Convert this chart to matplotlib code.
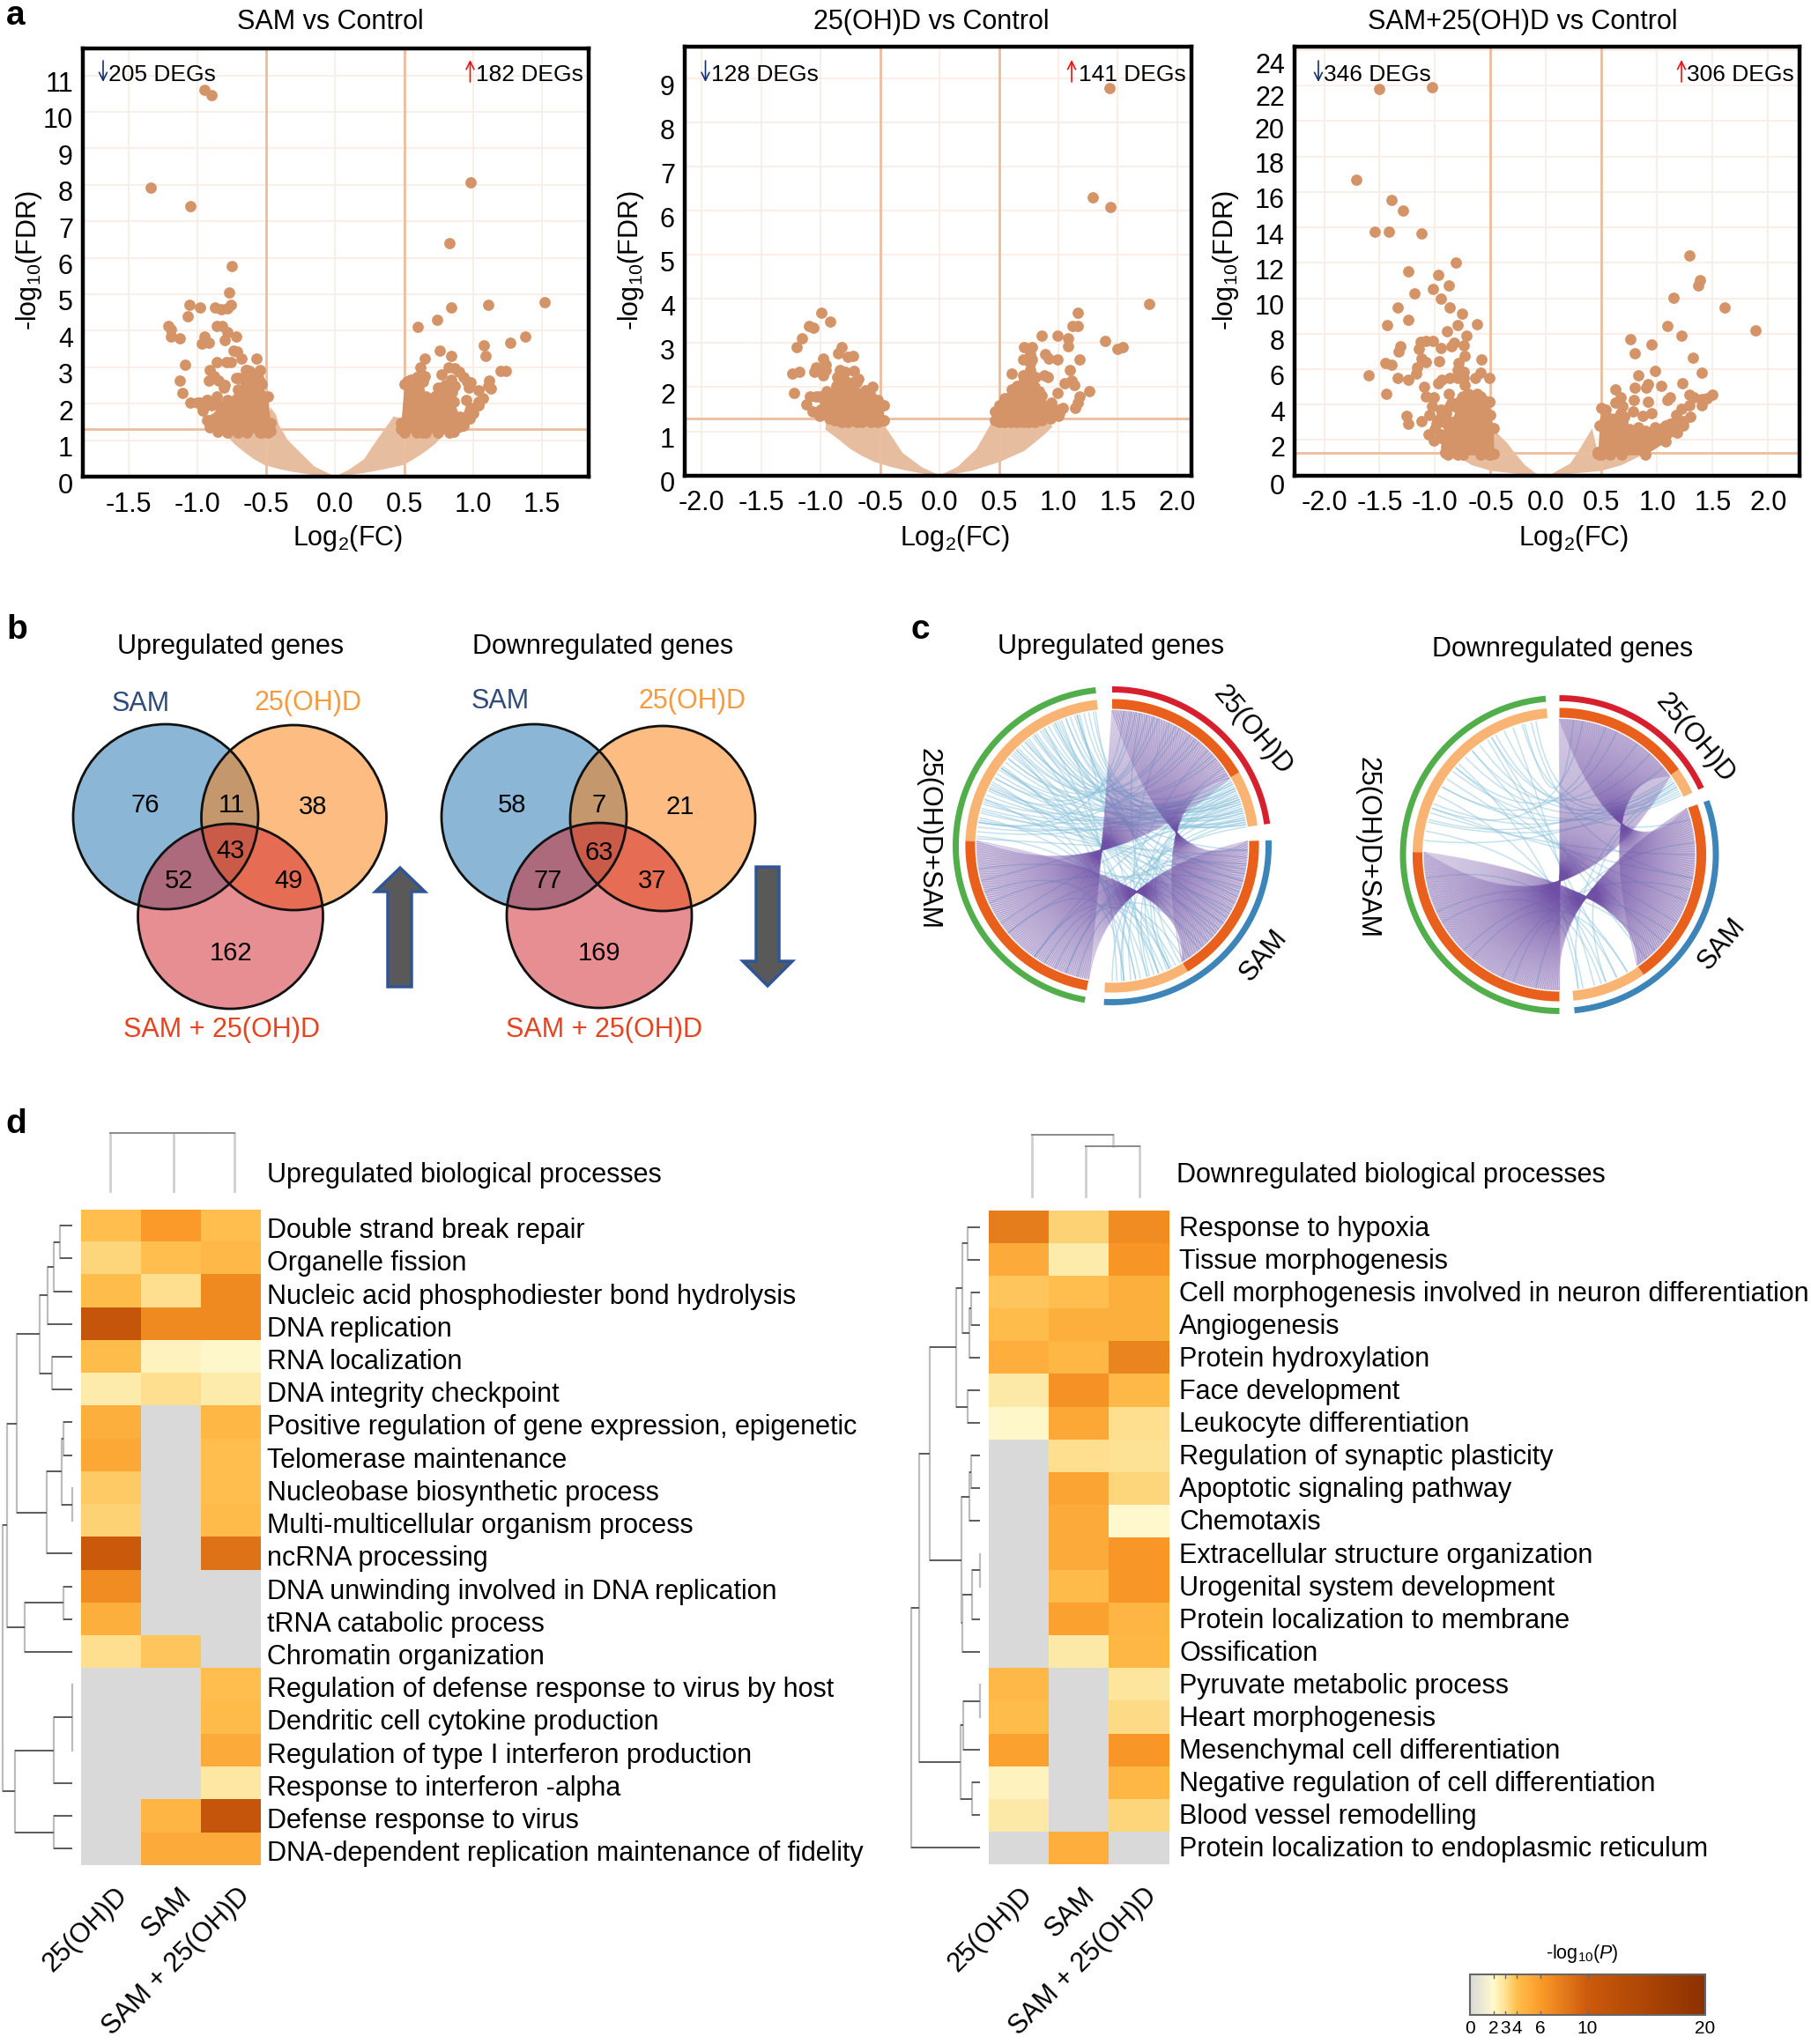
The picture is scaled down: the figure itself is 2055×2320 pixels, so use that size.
import matplotlib
matplotlib.use('Agg')
import matplotlib.pyplot as plt
import numpy as np
from matplotlib.colors import LinearSegmentedColormap, Normalize
from matplotlib.cm import ScalarMappable
from matplotlib.path import Path
from matplotlib.patches import Circle, PathPatch, Polygon
from matplotlib.transforms import ScaledTranslation

plt.rcParams['font.family'] = ['Liberation Sans', 'DejaVu Sans']
plt.rcParams['mathtext.fontset'] = 'custom'
plt.rcParams['mathtext.rm'] = 'Liberation Sans'
plt.rcParams['mathtext.it'] = 'Liberation Sans:italic'
plt.rcParams['mathtext.default'] = 'regular'

W, H = 2055, 2320

# ---- panel a, volcano data
v1_down_x = [-0.95,-0.90,-1.34,-1.05,-0.75,-0.77,-1.06,-0.98,-0.87,-0.83,-0.76,-0.78,-1.07,-1.21,-1.19,-1.19,-1.13,-0.86,-0.82,-0.78,-0.72,-0.80,-0.95,-0.97,-0.92,-0.74,-0.71,-0.68,-0.57,-0.86,-0.79,-0.76,-1.09,-0.91,-0.65,-0.62,-0.56,-0.88,-0.92,-0.85,-1.13,-0.70,-0.66,-0.55,-0.81,-1.11,-1.05,-0.98,-0.93,-0.96,-0.90,-0.88,-0.93,-1.0,-0.96,-0.91,-0.87,-0.93,-0.86,-0.8,-0.72,-0.7,-0.85,-0.6,-0.58]
v1_down_y = [10.6,10.46,7.92,7.41,5.77,5.04,4.72,4.64,4.64,4.58,4.70,4.62,4.40,4.12,4.03,3.85,3.78,4.12,4.12,3.96,3.84,3.75,3.84,3.64,3.66,3.46,3.44,3.24,3.24,3.13,3.14,3.14,3.07,2.92,2.92,2.90,2.85,2.75,2.63,2.63,2.64,2.70,2.68,2.66,2.43,2.30,2.04,2.04,2.09,1.85,1.95,1.60,1.55,2.04,1.8,1.55,1.4,2.1,2.2,2.5,2.7,2.2,1.7,2.6,2.3]
v1_up_x = [0.98,0.83,1.52,1.11,0.84,0.74,0.60,1.38,1.27,1.08,1.09,0.76,0.84,0.65,0.62,0.82,0.87,0.90,0.93,0.96,0.98,0.97,1.20,1.24,0.65,0.77,0.84,0.87,0.85,1.12,1.11,1.13,1.04,1.07,1.04,0.98,0.97,0.94,0.89,0.55,0.60,0.52,0.55,0.6,0.7,0.75,0.9,0.95,1.0,0.8,0.93]
v1_up_y = [8.07,6.41,4.78,4.71,4.64,4.31,4.11,3.84,3.66,3.61,3.32,3.46,3.32,3.24,2.99,3.00,2.97,2.87,2.73,2.61,2.58,2.43,2.89,2.91,2.75,2.80,2.65,2.48,2.33,2.63,2.48,2.41,2.36,2.14,1.99,1.89,1.74,1.55,1.40,2.65,2.65,2.60,2.4,2.5,2.1,2.2,1.6,2.1,1.75,2.5,1.4]
v1_blob_l = ([-0.91,-0.855,-0.78,-0.706,-0.642,-0.546,-0.535,-0.49,-0.47], [1.44,1.97,2.1,2.4,2.93,2.93,2.53,2.2,1.48], [1.35,1.24,1.2,1.2,1.2,1.2,1.2,1.2,1.25])
v1_blob_r = ([0.477,0.5,0.594,0.637,0.657,0.744,0.83,0.86,0.904,0.976,1.04], [1.48,2.53,2.73,2.6,2.2,2.45,2.29,2.05,1.65,1.8,2.05], [1.3,1.2,1.2,1.2,1.2,1.2,1.2,1.24,1.38,1.6,1.95])
v1_cloud_x = [-0.813,-0.74,-0.663,-0.59,-0.514,-0.42,-0.322,-0.17,0,0.21,0.35,0.497,0.57,0.637,0.72,0.817,0.7,0.5,0.48,0.424,0.317,0.273,0.21,0.104,0,-0.152,-0.237,-0.344,-0.408,-0.43,-0.47,-0.5]
v1_cloud_y = [1.25,0.92,0.68,0.48,0.32,0.22,0.14,0.05,0,0.1,0.2,0.32,0.48,0.64,0.88,1.25,1.3,1.3,1.6,1.65,1.08,0.84,0.48,0.2,0,0.28,0.6,1.0,1.41,1.7,1.9,1.3]

v2_down_x = [-0.99,-0.92,-1.10,-1.06,-1.16,-1.20,-0.82,-0.85,-0.77,-0.73,-0.98,-0.96,-1.04,-1.05,-0.98,-0.96,-1.24,-1.18,-0.84,-0.79,-0.72,-0.86,-0.81,-0.68,-0.71,-0.87,-0.79,-0.56,-1.22,-1.09,-1.04,-1.12,-1.07,-0.62,-0.9,-1.0,-0.95]
v2_down_y = [3.68,3.48,3.38,3.35,3.11,2.91,2.91,2.76,2.69,2.71,2.65,2.51,2.45,2.35,2.27,2.39,2.30,2.35,2.39,2.35,2.36,2.22,2.18,2.18,2.13,2.02,1.98,2.00,1.87,1.79,1.79,1.61,1.45,1.92,1.6,1.5,1.9]
v2_up_x = [1.43,1.29,1.44,1.76,1.16,1.12,1.16,0.86,0.99,1.08,1.39,1.54,1.50,1.08,0.71,0.78,0.89,0.92,0.99,1.18,0.70,0.76,0.78,0.76,1.10,0.76,0.61,0.70,0.81,0.88,0.91,1.11,1.05,1.13,0.71,0.65,0.61,0.75,1.26,0.99,0.84,1.18,1.16,1.14,0.94,1.04,1.01,0.98,0.9,0.72]
v2_up_y = [8.78,6.30,6.08,3.88,3.68,3.38,3.38,3.16,3.16,3.11,3.05,2.91,2.87,2.92,2.91,2.91,2.74,2.65,2.62,2.62,2.63,2.75,2.63,2.55,2.39,2.39,2.30,2.27,2.22,2.27,2.22,2.14,2.08,2.05,2.14,2.02,1.94,1.94,1.90,1.87,1.90,1.78,1.65,1.53,1.65,1.53,1.41,1.37,1.5,2.0]
v2_blob_l = ([-1.01,-0.93,-0.88,-0.82,-0.77,-0.7,-0.65,-0.58,-0.52,-0.47], [1.78,1.75,1.82,1.95,2.1,2.1,1.87,1.8,1.7,1.6], [1.35,1.3,1.25,1.22,1.22,1.22,1.22,1.22,1.22,1.25])
v2_blob_r = ([0.47,0.5,0.55,0.6,0.65,0.7,0.75,0.8,0.86,0.93,1.0], [1.45,1.6,1.74,1.78,1.85,2.1,2.3,2.0,1.8,1.6,1.5], [1.25,1.22,1.22,1.22,1.22,1.22,1.22,1.22,1.25,1.3,1.35])
v2_cloud_x = [-0.96,-0.85,-0.75,-0.65,-0.55,-0.42,-0.28,-0.12,0,0.12,0.28,0.51,0.6,0.71,0.8,0.88,0.95,0.9,0.5,0.45,0.31,0.15,0,-0.15,-0.31,-0.38,-0.45,-0.43,-0.5,-0.95]
v2_cloud_y = [1.04,0.82,0.6,0.44,0.31,0.2,0.11,0.03,0,0.03,0.11,0.31,0.42,0.55,0.74,0.92,1.1,1.3,1.3,1.25,0.6,0.19,0,0.19,0.51,0.8,1.08,1.3,1.3,1.3]

v3_down_x = [-1.5,-1.03,-1.71,-1.39,-1.29,-1.54,-1.42,-1.12,-0.81,-1.24,-0.97,-0.88,-1.02,-1.19,-0.95,-0.87,-1.34,-0.76,-1.24,-1.43,-0.80,-0.62,-0.89,-0.72,-1.13,-1.08,-1.02,-0.83,-0.85,-0.74,-1.31,-1.33,-1.15,-0.95,-0.73,-1.12,-1.08,-0.58,-0.96,-0.79,-1.45,-1.39,-1.16,-1.17,-0.80,-0.74,-0.59,-1.6,-1.34,-1.24,-0.87,-0.94,-0.80,-0.74,-0.64,-0.51,-0.97,-0.73,-1.10,-0.88,-1.44,-1.08,-1.01,-0.76,-0.66,-0.51,-1.03,-0.87,-1.05,-0.94,-1.26,-1.12,-1.24,-0.99,-1.06,-1.01,-0.95,-0.9,-0.98,-0.92,-0.85,-1.0,-0.95,-0.92,-0.88,-0.85,-0.8,-0.7,-0.62,-0.55,-0.9,-0.95]
v3_down_y = [21.8,21.9,16.7,15.57,14.96,13.74,13.76,13.66,12.04,11.5,11.3,10.74,10.51,10.27,10.0,9.48,9.46,9.13,8.77,8.5,8.48,8.52,8.14,7.88,7.53,7.57,7.57,7.47,7.27,7.33,7.31,7.0,7.12,7.2,6.76,6.6,6.39,6.56,6.45,6.35,6.35,6.25,6.11,5.74,5.95,5.85,5.8,5.64,5.48,5.38,5.48,5.38,5.48,5.5,5.5,5.48,5.18,5.09,4.99,4.59,4.63,4.47,4.42,4.42,4.47,4.16,3.92,3.92,3.41,3.41,3.37,3.04,2.9,2.9,2.33,1.99,3.7,3.5,3.1,3.0,4.1,2.6,2.3,2.0,2.4,3.0,4.1,4.6,4.6,4.2,1.6,2.1]
v3_up_x = [1.29,1.39,1.37,1.15,1.61,1.89,1.09,1.22,0.76,0.95,0.80,1.32,0.98,1.40,0.83,0.92,0.90,1.23,1.04,0.80,0.62,1.50,1.45,1.29,1.33,1.40,1.12,1.09,0.92,0.79,0.67,0.62,1.40,1.29,0.54,0.69,0.67,0.78,0.95,0.87,1.22,1.17,1.30,1.22,1.13,1.06,0.53,0.62,0.69,0.83,0.98,0.55,0.6,0.65,0.75,0.8,0.95,1.05,1.12,0.7]
v3_up_y = [12.4,11.0,10.74,10.03,9.48,8.18,8.42,7.88,7.67,7.37,6.9,6.62,5.91,5.78,5.66,5.13,4.93,5.18,5.03,4.93,4.83,4.57,4.36,4.57,4.42,4.32,4.42,4.28,4.16,4.24,4.42,4.12,3.98,3.96,3.71,3.92,3.51,3.61,3.51,3.35,3.75,3.41,3.31,3.0,2.9,2.7,3.11,3.21,3.0,2.74,2.7,3.2,2.8,2.9,2.6,2.5,2.3,2.5,2.9,3.3]
v3_blob_l = ([-0.91,-0.885,-0.8,-0.75,-0.59,-0.51,-0.5,-0.47], [1.33,2.82,3.8,4.48,4.48,4.14,3.4,2.65], [1.25,1.18,1.16,1.16,1.16,1.16,1.16,1.2])
v3_blob_r = ([0.466,0.48,0.494,0.573,0.68,0.89,1.076,1.18,1.235], [1.33,2.82,3.8,3.2,2.65,2.5,2.82,3.1,3.08], [1.2,1.16,1.16,1.16,1.16,1.16,1.9,2.4,2.82])
v3_cloud_x = [-0.84,-0.8,-0.67,-0.49,-0.25,-0.06,0,0.2,0.494,0.68,0.84,0.88,0.47,0.415,0.335,0.28,0.216,0.097,0.03,-0.09,-0.19,-0.29,-0.35,-0.46,-0.47]
v3_cloud_y = [1.2,1.07,0.58,0.25,0.08,0.01,0,0.08,0.25,0.58,1.07,1.2,1.2,2.65,1.83,1.25,0.66,0.25,0,0.1,0.58,1.33,1.83,2.5,1.2]

# ---- panel b
venn_up = [76, 11, 38, 43, 52, 49, 162]
venn_down = [58, 7, 21, 63, 77, 37, 169]

# ---- panel d
up_terms = ['Double strand break repair', 'Organelle fission', 'Nucleic acid phosphodiester bond hydrolysis',
            'DNA replication', 'RNA localization', 'DNA integrity checkpoint',
            'Positive regulation of gene expression, epigenetic', 'Telomerase maintenance',
            'Nucleobase biosynthetic process', 'Multi-multicellular organism process', 'ncRNA processing',
            'DNA unwinding involved in DNA replication', 'tRNA catabolic process', 'Chromatin organization',
            'Regulation of defense response to virus by host', 'Dendritic cell cytokine production',
            'Regulation of type I interferon production', 'Response to interferon -alpha',
            'Defense response to virus', 'DNA-dependent replication maintenance of fidelity']
up_25d = [4.0,3.3,4.1,11,4.1,2.5,4.8,5.2,3.6,3.4,10,6.8,4.8,3.0,0,0,0,0,0,0]
up_sam = [6.0,4.0,3.0,7.0,2.2,3.0,0,0,0,0,0,0,0,3.8,0,0,0,0,4.5,5.0]
up_both = [4.0,4.3,7.0,7.0,2.1,2.5,4.4,4.0,4.0,4.2,8.5,0,0,0,4.0,4.2,5.0,2.7,11,5.0]

down_terms = ['Response to hypoxia', 'Tissue morphogenesis', 'Cell morphogenesis involved in neuron differentiation',
              'Angiogenesis', 'Protein hydroxylation', 'Face development', 'Leukocyte differentiation',
              'Regulation of synaptic plasticity', 'Apoptotic signaling pathway', 'Chemotaxis',
              'Extracellular structure organization', 'Urogenital system development',
              'Protein localization to membrane', 'Ossification', 'Pyruvate metabolic process',
              'Heart morphogenesis', 'Mesenchymal cell differentiation', 'Negative regulation of cell differentiation',
              'Blood vessel remodelling', 'Protein localization to endoplasmic reticulum']
down_25d = [7.8,5.0,3.8,4.1,4.9,2.6,2.1,0,0,0,0,0,0,0,4.3,4.1,5.6,2.2,2.6,0]
down_sam = [3.4,2.5,4.0,4.8,4.4,6.5,5.2,3.0,5.4,5.1,5.0,4.2,5.6,2.6,0,0,0,0,0,4.9]
down_both = [6.8,6.3,4.8,4.8,7.4,4.3,3.0,2.9,3.3,2.0,6.2,6.2,4.5,4.4,2.8,3.2,6.2,4.4,3.3,0]

# row trees: (merge distance, child, child, ...), ints are row numbers
up_tree = (79, (74, (63, (37, (28, (21, (14, 0, 1), 2), 3), (23, 4, 5)),
                     (29, (12, (10, 6, 7), (0.5, 8, 9)), 10)),
                (54, (10, 11, 12), 13)),
           (65, (21, (0.5, 14, 15, 16), 17), (21, 18, 19)))
down_tree = (78, (69, (57, (27, (20, (14, 0, 1), (12, (10, 2, 3), 4)), (14, 5, 6)),
                       (21, (12, (10, 7, 8), 9), (20, (9, (0.5, 10, 11), 12), 13))),
                  (22, (19, (0.5, 14, 15), 16), (9, 17, 18))), 19)
up_col_tree = (66, 0, (66, 1, 2))
down_col_tree = (70, 0, (57, 1, 2))

cb_ticks = [0, 2, 3, 4, 6, 10, 20]

# ---- panel c, single thin links as pairs of rim angles (degrees clockwise from top)
up_blue = [(276,64),(280,70),(284,78),(288,62),(292,74),(296,68),(300,80),(304,66),(308,72),(312,76),(316,61),(320,70),
           (324,79),(328,65),(332,75),(336,69),(340,63),(344,77),(348,81),(352,71),(274,152),(282,158),(290,165),(298,170),
           (306,155),(314,175),(322,160),(330,168),(338,178),(346,162),(62,150),(66,156),(70,164),(74,172),(78,180),(80,154),
           (68,176),(10,300),(20,310),(30,320),(40,290),(50,330),(15,340),(35,280),(100,285),(110,295),(120,305),(130,315),
           (140,325),(105,335),(125,345),(12,155),(25,165),(45,175),(55,160),(160,215),(170,230),(175,250),(155,205),(65,215),
           (72,235),(76,255),(82,200),(278,60),(286,67),(294,73),(302,79),(310,63),(318,69),(326,75),(334,81),(342,65),(350,71),
           (273,95),(281,105),(289,115),(297,125),(305,135),(313,145),(321,92),(329,102),(337,112),(345,122),(353,132),
           (5,280),(8,295),(18,305),(28,315),(38,325),(48,335),(58,345),(92,200),(98,215),(108,230),(118,245),(128,260),(138,195),(148,210)]
down_blue = [(276,58),(284,62),(292,56),(300,60),(308,64),(316,59),(324,57),(332,63),(344,61),(350,55),(280,150),(296,160),
             (312,170),(328,155),(340,165),(20,300),(35,320),(50,285),(100,290),(120,310),(140,330),(60,160),(58,172),(150,220),
             (162,240),(172,200),(155,260),(288,90),(304,110),(320,130),(336,75),(348,100),(10,290),(25,310),(42,330),(6,345),(85,190),
             (105,205),(125,225),(135,245)]

c_orange_dark, c_orange_light = '#E8601C', '#F9B473'
up_groups = dict(a=(0, 60, 82), b=(88, 149, 183), c=(190, 272, 354))
down_groups = dict(a=(0, 54.5, 65), b=(70, 145, 174.5), c=(180, 271, 355))
up_pinch = dict(ab=(1335, 945), ac=(1250, 965), bc=(1290, 1012))
down_pinch = dict(ab=(1840, 935), ac=(1770, 1000), bc=(1800, 1018))

col_leaves_up = [125, 197, 266]
col_leaves_down = [1171, 1232, 1293]


def px_axes(fig, x0, y0, x1, y1):
    return fig.add_axes([x0 / W, 1 - y1 / H, (x1 - x0) / W, (y1 - y0) / H])


fig = plt.figure(figsize=(W / 100, H / 100), dpi=100)
ov = fig.add_axes([0, 0, 1, 1], zorder=5)
ov.set_xlim(0, W)
ov.set_ylim(H, 0)
ov.axis('off')

DEG = '#D49467'
CLOUD = '#E7BDA0'
LINE = '#EDBD9E'


def volcano(box, xlim, ylim, xt, yt, thr, dx, dy, ux, uy, blobs, cloud, label_dy=None):
    ax = px_axes(fig, *box)
    ax.set_xlim(xlim)
    ax.set_ylim(ylim)
    for v in xt:
        ax.axvline(v, color='#FBEDE4', lw=1.3, zorder=0)
    for v in yt:
        ax.axhline(v, color='#FBEDE4', lw=1.3, zorder=0)
    ax.fill(cloud[0], cloud[1], color=CLOUD, lw=0, zorder=1)
    ax.axvline(-0.5, color=LINE, lw=2, zorder=2)
    ax.axvline(0.5, color=LINE, lw=2, zorder=2)
    ax.axhline(thr, color=LINE, lw=2, zorder=2)
    for b in blobs:
        ax.fill_between(b[0], b[2], b[1], color=DEG, lw=0, zorder=3)
        ax.scatter(b[0], b[1], s=85, color=DEG, lw=0, zorder=3)
        ax.scatter(b[0], b[2], s=85, color=DEG, lw=0, zorder=3)
    ax.scatter(dx, dy, s=85, color=DEG, lw=0, zorder=4)
    ax.scatter(ux, uy, s=85, color=DEG, lw=0, zorder=4)
    ax.set_xticks(xt)
    ax.set_xticklabels(['%.1f' % v for v in xt])
    ax.set_yticks(yt)
    ax.tick_params(length=0, labelsize=22, pad=8)
    ax.tick_params(axis='x', pad=12)
    for i, lab in enumerate(ax.get_yticklabels()):
        extra = label_dy[i] if label_dy else 0
        off = ScaledTranslation(0, -(7 + extra) / 100, fig.dpi_scale_trans)
        lab.set_transform(lab.get_transform() + off)
    for s in ax.spines.values():
        s.set_linewidth(3.2)
    return ax


volcano((94, 54.5, 668, 541), (-1.832, 1.84), (0, 11.75), [-1.5, -1, -0.5, 0, 0.5, 1, 1.5], list(range(12)), 1.3,
        v1_down_x, v1_down_y, v1_up_x, v1_up_y, [v1_blob_l, v1_blob_r], (v1_cloud_x, v1_cloud_y))
volcano((777, 53, 1352, 539.6), (-2.142, 2.119), (0, 9.72), [-2, -1.5, -1, -0.5, 0, 0.5, 1, 1.5, 2], list(range(10)), 1.29,
        v2_down_x, v2_down_y, v2_up_x, v2_up_y, [v2_blob_l, v2_blob_r], (v2_cloud_x, v2_cloud_y))
volcano((1469, 53, 2041.6, 539.6), (-2.266, 2.28), (0, 24.2), [-2, -1.5, -1, -0.5, 0, 0.5, 1, 1.5, 2], list(range(0, 25, 2)), 1.26,
        v3_down_x, v3_down_y, v3_up_x, v3_up_y, [v3_blob_l, v3_blob_r], (v3_cloud_x, v3_cloud_y),
        label_dy=[3, 0, 0, 0, 0, 0, 0, 0, 0, 0, 1, 4, 7])

for x, t in [(375, 'SAM vs Control'), (1057, '25(OH)D vs Control'), (1728, 'SAM+25(OH)D vs Control')]:
    ov.text(x, 25, t, fontsize=22, ha='center', va='center')
for x in [395, 1084, 1786]:
    ov.text(x, 611, 'Log$_2$(FC)', fontsize=22, ha='center', va='center')
for x in [33, 716, 1391]:
    ov.text(x, 296, '-log$_{10}$(FDR)', fontsize=22, ha='center', va='center', rotation=90)

deg_labels = [(117, 123, 533.5, 540, '205 DEGs', '182 DEGs'), (800.5, 807, 1216, 1224, '128 DEGs', '141 DEGs'),
              (1496, 1502, 1908, 1914, '346 DEGs', '306 DEGs')]
for xa, xt, xb, xu, s1, s2 in deg_labels:
    ov.annotate('', xy=(xa, 93), xytext=(xa, 69),
                arrowprops=dict(arrowstyle='->', color='#14306B', lw=1.2, shrinkA=0, shrinkB=0, mutation_scale=16))
    ov.annotate('', xy=(xb, 68), xytext=(xb, 93),
                arrowprops=dict(arrowstyle='->', color='#F01010', lw=1.2, shrinkA=0, shrinkB=0, mutation_scale=16))
    ov.text(xt, 85, s1, fontsize=19, va='center')
    ov.text(xu, 85, s2, fontsize=19, va='center')

for x, y, s in [(18, 28, 'a'), (19, 725, 'b'), (1044, 725, 'c'), (18, 1286, 'd')]:
    ov.text(x, y, s, fontsize=28, fontweight='bold', ha='center', va='baseline')

# ---- venn
c_blue, c_orange, c_red = '#1B6FAD', '#FD7B05', '#D11F27'


def venn(centres, vals, num_pos):
    for (cx, cy), c in zip(centres, [c_blue, c_orange, c_red]):
        ov.add_patch(Circle((cx, cy), 105, fc=c, ec='none', alpha=0.5))
    for cx, cy in centres:
        ov.add_patch(Circle((cx, cy), 105, fc='none', ec='#111111', lw=2))
    for (x, y), v in zip(num_pos, vals):
        ov.text(x, y + 1.5, str(v), fontsize=21, ha='center', va='center')


venn([(188, 927), (333.5, 928), (261.5, 1040)], venn_up,
     [(165, 913), (263, 913), (355, 914), (262, 964), (203, 999), (328, 999), (262, 1080)])
venn([(606, 927), (752, 929), (680, 1039)], venn_down,
     [(581, 913), (680, 913), (772, 914), (680, 966), (622, 999), (740, 999), (680, 1080)])

for x, y, s in [(262, 734, 'Upregulated genes'), (684, 734, 'Downregulated genes'),
                (1261, 734, 'Upregulated genes'), (1773, 737, 'Downregulated genes')]:
    ov.text(x, y, s, fontsize=22, ha='center', va='center')
for x, y in [(160, 799), (568, 796)]:
    ov.text(x, y, 'SAM', fontsize=22, ha='center', va='center', color='#2F4B7C')
for x, y in [(350, 798), (786, 796)]:
    ov.text(x, y, '25(OH)D', fontsize=22, ha='center', va='center', color='#F59B3E')
for x in [252, 685]:
    ov.text(x, 1169, 'SAM + 25(OH)D', fontsize=22, ha='center', va='center', color='#E8431F')

ov.add_patch(Polygon([(454, 985), (482, 1012), (467, 1012), (467, 1120), (440, 1120), (440, 1012), (426, 1012)],
                     fc='#595959', ec='#2F5597', lw=2.5))
ov.add_patch(Polygon([(871, 1119), (899, 1091), (884, 1091), (884, 984), (858, 984), (858, 1091), (843, 1091)],
                     fc='#595959', ec='#2F5597', lw=2.5))


# ---- chord diagrams
def rim(cx, cy, r, a):
    t = np.deg2rad(a)
    return cx + r * np.sin(t), cy - r * np.cos(t)


def arc(cx, cy, r, a0, a1, color, lw):
    t = np.linspace(a0, a1, 120)
    x, y = rim(cx, cy, r, t)
    ov.plot(x, y, color=color, lw=lw, solid_capstyle='butt', zorder=4)


def via(cx, cy, a, b, p):
    # control point that makes the curve from rim angle a to rim angle b pass through p
    ax_, ay_ = rim(cx, cy, 154, a)
    bx_, by_ = rim(cx, cy, 154, b)
    return (2 * p[0] - (ax_ + bx_) / 2, 2 * p[1] - (ay_ + by_) / 2)


def link(cx, cy, a, b, color, alpha, lw, ctrl=None):
    if ctrl is None:
        ctrl = (cx, cy)
    p = Path([rim(cx, cy, 154, a), ctrl, rim(cx, cy, 154, b)], [Path.MOVETO, Path.CURVE3, Path.CURVE3])
    ov.add_patch(PathPatch(p, fc='none', ec=color, alpha=alpha, lw=lw, zorder=3))


def fan(cx, cy, a0, a1, b0, b1, n, pinch):
    # pale ribbon under the lines, then one line per shared gene, all through the pinch point
    verts = [rim(cx, cy, 154, a0)]
    codes = [Path.MOVETO]
    for a in np.linspace(a0, a1, 30)[1:]:
        verts.append(rim(cx, cy, 154, a))
        codes.append(Path.LINETO)
    verts += [via(cx, cy, a1, b1, pinch), rim(cx, cy, 154, b1)]
    codes += [Path.CURVE3, Path.CURVE3]
    for b in np.linspace(b1, b0, 30)[1:]:
        verts.append(rim(cx, cy, 154, b))
        codes.append(Path.LINETO)
    verts += [via(cx, cy, a0, b0, pinch), rim(cx, cy, 154, a0)]
    codes += [Path.CURVE3, Path.CURVE3]
    ov.add_patch(PathPatch(Path(verts, codes), fc='#C9BBDD', ec='none', alpha=0.18, zorder=2))
    for a, b in zip(np.linspace(a0, a1, n), np.linspace(b0, b1, n)):
        link(cx, cy, a, b, '#6F4FA6', 0.28, 1.0, via(cx, cy, a, b, pinch))


def chord(cx, cy, g, blue, n_ab, n_ac, n_bc, pinch):
    for a, b in blue:
        link(cx, cy, a, b, '#8CC4DC', 0.5, 1.1)
    fan(cx, cy, g['a'][0], g['a'][1], g['b'][0], g['b'][1], n_ab, pinch['ab'])
    fan(cx, cy, g['a'][0], g['a'][1], g['c'][0], g['c'][1], n_ac, pinch['ac'])
    fan(cx, cy, g['b'][0], g['b'][1], g['c'][0], g['c'][1], n_bc, pinch['bc'])
    for k, col in zip('abc', ['#D7202E', '#3D85B8', '#52AE4B']):
        s, m, e = g[k]
        arc(cx, cy, 177.5, s, e, col, 5)
        arc(cx, cy, 161, s, m, c_orange_dark, 8)
        arc(cx, cy, 161, m, e, c_orange_light, 8)


chord(1262, 960, up_groups, up_blue, venn_up[1] + venn_up[3], venn_up[3] + venn_up[5], venn_up[3] + venn_up[4], up_pinch)
chord(1769.5, 970, down_groups, down_blue, venn_down[1] + venn_down[3], venn_down[3] + venn_down[5], venn_down[3] + venn_down[4], down_pinch)

for x, y, s, r in [(1054, 952, '25(OH)D+SAM', -90), (1421, 829, '25(OH)D', -50), (1434, 1085, 'SAM', 50),
                   (1551, 962, '25(OH)D+SAM', -90), (1923, 838, '25(OH)D', -50), (1954, 1072, 'SAM', 50)]:
    ov.text(x, y, s, fontsize=22, ha='center', va='center', rotation=r, rotation_mode='anchor')

# ---- heatmaps
heat_cmap = LinearSegmentedColormap.from_list('heat', [(0, '#D9D9D9'), (0.1, '#FFF9CC'), (0.15, '#FDDF8E'), (0.2, '#FFBE4D'),
                                                       (0.3, '#FB9A29'), (0.5, '#CC5A0C'), (1, '#8C3000')])
heat_norm = Normalize(0, 20)


def tree_pos(node):
    if isinstance(node, int):
        return node
    return sum(tree_pos(c) for c in node[1:]) / len(node[1:])


def draw_tree(node, to_xy):
    # to_xy maps (leaf position, merge distance) to pixels
    if isinstance(node, int):
        return
    d = node[0]
    ps = []
    for c in node[1:]:
        cd = 0 if isinstance(c, int) else c[0]
        p = tree_pos(c)
        ps.append(p)
        x0, y0 = to_xy(p, cd)
        x1, y1 = to_xy(p, d)
        ov.plot([x0, x1], [y0, y1], color='#5A5A5A', lw=1.4, solid_capstyle='butt', zorder=2)
        draw_tree(c, to_xy)
    x0, y0 = to_xy(min(ps), d)
    x1, y1 = to_xy(max(ps), d)
    ov.plot([x0, x1], [y0, y1], color='#BDBDBD', lw=1.6, solid_capstyle='projecting', zorder=1)


def heatmap(box, terms, cols, label_x, label_dy, row_tree, leaf_x, col_tree, col_base, col_leaves, col_label_x):
    ax = px_axes(fig, *box)
    ax.imshow(np.array(cols).T, cmap=heat_cmap, norm=heat_norm, aspect='auto', interpolation='nearest')
    ax.axis('off')
    rh = (box[3] - box[1]) / len(terms)
    for i, t in enumerate(terms):
        ov.text(label_x, box[1] + (i + 0.5) * rh + label_dy, t, fontsize=22, va='center')
    draw_tree(row_tree, lambda p, d: (leaf_x - d, box[1] + (p + 0.5) * rh))

    def leaf(p):
        return np.interp(p, [0, 1, 2], col_leaves)

    def col_draw(node):
        ps = []
        for c in node[1:]:
            cd = 0 if isinstance(c, int) else c[0]
            p = tree_pos(c)
            ps.append(p)
            ov.plot([leaf(p), leaf(p)], [col_base - cd, col_base - node[0]], color='#CFCFCF', lw=2, zorder=1)
            if not isinstance(c, int):
                col_draw(c)
        ov.plot([leaf(min(ps)), leaf(max(ps))], [col_base - node[0]] * 2, color='#8A8A8A', lw=1.4, zorder=2)
    col_draw(col_tree)
    for x, s in zip(col_label_x, ['25(OH)D', 'SAM', 'SAM + 25(OH)D']):
        ov.text(x, 2137, s, fontsize=22, rotation=45, ha='right', va='top', rotation_mode='anchor')


heatmap((92, 1372.5, 296, 2117), up_terms, [up_25d, up_sam, up_both], 303, 6, up_tree, 82, up_col_tree, 1352, col_leaves_up, [130, 202, 268])
heatmap((1122, 1374, 1327, 2116), down_terms, [down_25d, down_sam, down_both], 1338, 2, down_tree, 1112, down_col_tree, 1358, col_leaves_down, [1157, 1227, 1297])
ov.text(303, 1334, 'Upregulated biological processes', fontsize=22, va='center')
ov.text(1335, 1334, 'Downregulated biological processes', fontsize=22, va='center')

# ---- colour key
cax = px_axes(fig, 1668, 2241, 1935, 2287)
cb = fig.colorbar(ScalarMappable(norm=heat_norm, cmap=heat_cmap), cax=cax, orientation='horizontal', ticks=cb_ticks)
cb.outline.set_edgecolor('#666666')
cb.outline.set_linewidth(1.5)
cax.tick_params(length=0, labelsize=15, pad=4)
for v in cb_ticks[1:-1]:
    cax.plot([v, v], [0, 0.08], color='#666666', lw=1)
    cax.plot([v, v], [0.92, 1], color='#666666', lw=1)
ov.text(1795, 2218, '-log$_{10}$($\\mathit{P}$)', fontsize=15.5, ha='center', va='center')

fig.savefig('out.png', dpi=100)
